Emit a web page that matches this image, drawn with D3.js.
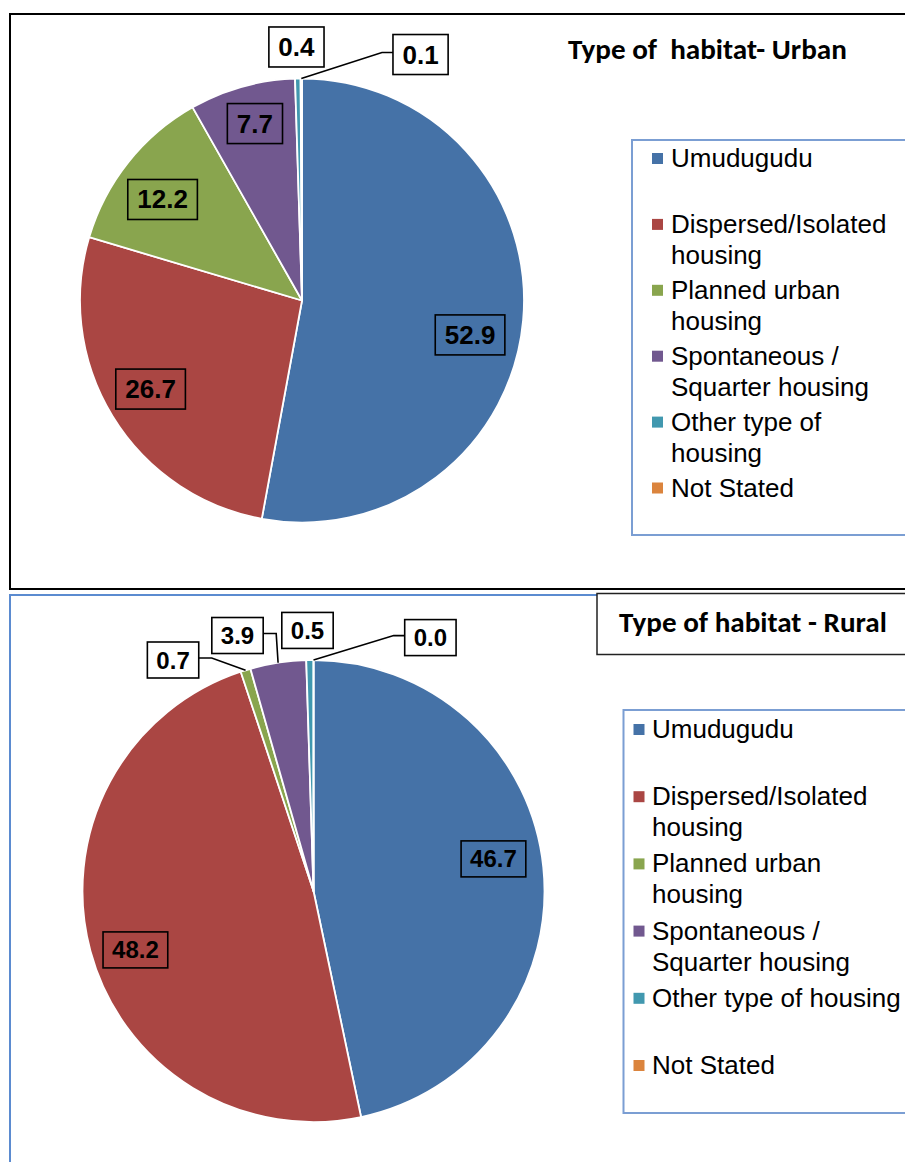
<!DOCTYPE html>
<html>
<head>
<meta charset="utf-8">
<script src="https://cdn.jsdelivr.net/npm/d3@7"></script>
<style>
  html, body { margin: 0; padding: 0; background: #fff; }
  svg { display: block; }
</style>
</head>
<body>
<svg id="chart" width="905" height="1162"></svg>
<script>
// ---------- DATA ----------
const categories = ["Umudugudu", "Dispersed/Isolated housing", "Planned urban housing",
  "Spontaneous / Squarter housing", "Other type of housing", "Not Stated"];
const urbanValues = [52.9, 26.7, 12.2, 7.7, 0.4, 0.1];
const ruralValues = [46.7, 48.2, 0.7, 3.9, 0.5, 0.0];
const urbanLegendLines = [["Umudugudu"], ["Dispersed/Isolated", "housing"], ["Planned urban", "housing"],
  ["Spontaneous /", "Squarter housing"], ["Other type of", "housing"], ["Not Stated"]];
const ruralLegendLines = [["Umudugudu"], ["Dispersed/Isolated", "housing"], ["Planned urban", "housing"],
  ["Spontaneous /", "Squarter housing"], ["Other type of housing"], ["Not Stated"]];
const urbanTitle = "Type of  habitat- Urban";
const ruralTitle = "Type of habitat - Rural";

// ---------- STYLE / LAYOUT ----------
const colors = ["#4572A7", "#AA4643", "#89A54E", "#71588F", "#4198AF", "#DB843D"];
const svg = d3.select("#chart");

const panels = [
  {
    values: urbanValues, legend: urbanLegendLines, title: urbanTitle,
    frame: {x: 10, y: 14, w: 940, h: 575, stroke: "#000", sw: 2},
    cx: 302, cy: 300.5, r: 222,
    labelFont: 26, boxH: 40, pad: 9.5,
    // label centre offsets in units of the radius
    labelOff: [[0.757, 0.155], [-0.682, 0.399], [-0.628, -0.455], [-0.212, -0.797], [-0.025, -1.142], [0.534, -1.108]],
    inside: [true, true, true, true, false, false],
    leader: [false, false, false, false, false, true],
    titleBox: null, titleX: 568, titleY: 59, titleW: 279,
    legendBox: {x: 632, y: 140, w: 300, h: 395},
    legendTextX: 671, legendSqX: 652, legendY0: 167, legendStep: 65.9, lineH: 31
  },
  {
    values: ruralValues, legend: ruralLegendLines, title: ruralTitle,
    frame: {x: 10, y: 595, w: 940, h: 620, stroke: "#5B8BD0", sw: 2},
    cx: 313.5, cy: 891, r: 231,
    labelFont: 24, boxH: 36, pad: 9,
    labelOff: [[0.779, -0.139], [-0.771, 0.255], [-0.608, -1.0], [-0.329, -1.106], [-0.026, -1.128], [0.506, -1.097]],
    inside: [true, true, false, false, false, false],
    leader: [false, false, true, true, false, true],
    titleBox: {x: 597, y: 593.5, w: 340, h: 61}, titleX: 619, titleY: 632, titleW: 268,
    legendBox: {x: 623.5, y: 710, w: 300, h: 403},
    legendTextX: 652, legendSqX: 633.5, legendY0: 738, legendStep: 67.2, lineH: 31
  }
];

panels.forEach(p => {
  const g = svg.append("g");

  // frame
  g.append("rect")
    .attr("x", p.frame.x).attr("y", p.frame.y)
    .attr("width", p.frame.w).attr("height", p.frame.h)
    .attr("fill", "none").attr("stroke", p.frame.stroke).attr("stroke-width", p.frame.sw);

  // pie
  const pie = d3.pie().sort(null).value(d => d)(p.values);
  const arc = d3.arc().innerRadius(0).outerRadius(p.r);
  const pg = g.append("g").attr("transform", `translate(${p.cx},${p.cy})`);
  pg.selectAll("path.slice").data(pie).join("path")
    .attr("class", "slice")
    .attr("d", arc)
    .attr("fill", (d, i) => colors[i])
    .attr("stroke", "#fff").attr("stroke-width", 1.8).attr("stroke-linejoin", "round");

  // labels
  pie.forEach((d, i) => {
    const lx = p.cx + p.labelOff[i][0] * p.r;
    const ly = p.cy + p.labelOff[i][1] * p.r;
    const lg = g.append("g");
    const rect = lg.append("rect");
    const txt = lg.append("text")
      .attr("x", lx).attr("y", ly)
      .attr("text-anchor", "middle").attr("dominant-baseline", "central")
      .attr("font-family", "'Liberation Sans', Arial, sans-serif")
      .attr("font-weight", "bold").attr("font-size", p.labelFont)
      .attr("fill", "#000")
      .text(d3.format(".1f")(d.data));
    const tw = txt.node().getComputedTextLength();
    const bw = tw + 2 * p.pad;
    const bx = lx - bw / 2, by = ly - p.boxH / 2;
    rect.attr("x", bx).attr("y", by).attr("width", bw).attr("height", p.boxH)
      .attr("fill", p.inside[i] ? colors[i] : "#fff")
      .attr("stroke", "#000").attr("stroke-width", 1.6);

    if (p.leader[i]) {
      const mid = (d.startAngle + d.endAngle) / 2;
      const px = p.cx + Math.sin(mid) * p.r;
      const py = p.cy - Math.cos(mid) * p.r;
      let ex, elx;
      if (px < bx) { ex = bx; elx = bx - 11; } else { ex = bx + bw; elx = bx + bw + 13; }
      const ey = ly - 2;
      g.append("path")
        .attr("d", d3.line()([[ex, ey], [elx, ey], [px, py]]))
        .attr("fill", "none").attr("stroke", "#000").attr("stroke-width", 1.6);
    }
  });

  // title
  if (p.titleBox) {
    g.append("rect")
      .attr("x", p.titleBox.x).attr("y", p.titleBox.y)
      .attr("width", p.titleBox.w).attr("height", p.titleBox.h)
      .attr("fill", "#fff").attr("stroke", "#222").attr("stroke-width", 1.5);
  }
  const tt = g.append("text")
    .attr("x", p.titleX).attr("y", p.titleY)
    .style("white-space", "pre")
    .attr("font-family", "Carlito, Lato, 'Open Sans', sans-serif")
    .attr("font-weight", "bold").attr("font-size", 22)
    .attr("fill", "#000")
    .text(p.title);
  const tw0 = tt.node().getComputedTextLength();
  tt.attr("font-size", 22 * p.titleW / tw0);

  // legend
  g.append("rect")
    .attr("x", p.legendBox.x).attr("y", p.legendBox.y)
    .attr("width", p.legendBox.w).attr("height", p.legendBox.h)
    .attr("fill", "#fff").attr("stroke", "#7B9ED3").attr("stroke-width", 2);

  categories.forEach((c, i) => {
    const base = p.legendY0 + i * p.legendStep;
    g.append("rect")
      .attr("x", p.legendSqX).attr("y", base - 14)
      .attr("width", 11).attr("height", 11)
      .attr("fill", colors[i]);
    const t = g.append("text")
      .attr("font-family", "'Liberation Sans', Arial, sans-serif")
      .attr("font-size", 26).attr("fill", "#000");
    p.legend[i].forEach((line, j) => {
      t.append("tspan").attr("x", p.legendTextX).attr("y", base + j * p.lineH).text(line);
    });
  });
});
</script>
</body>
</html>
